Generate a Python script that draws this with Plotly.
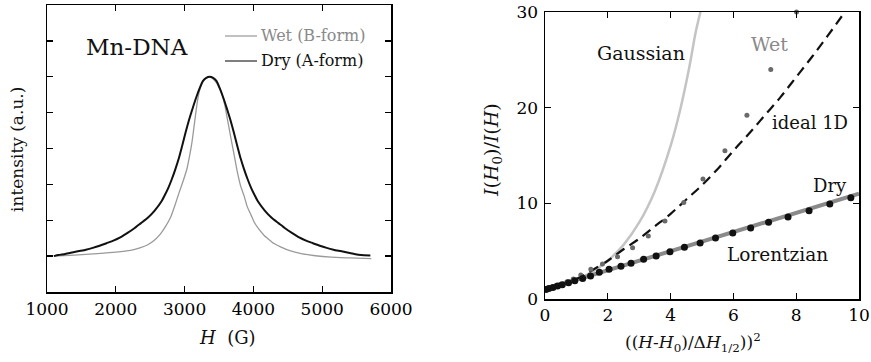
import plotly.graph_objects as go

# ---------------- Left panel data: EPR line shapes ----------------
H_dry = [1100, 1165, 1265, 1365, 1465, 1565, 1665, 1765, 1865, 1965, 2065, 2165, 2265, 2365,
         2465, 2565, 2665, 2715, 2765, 2815, 2865, 2915, 2965, 3015, 3065, 3115, 3165, 3215,
         3265, 3315, 3365, 3415, 3465, 3515, 3565, 3615, 3665, 3715, 3765, 3815, 3865, 3915,
         3965, 4015, 4065, 4165, 4265, 4365, 4465, 4565, 4665, 4765, 4865, 4965, 5065, 5165,
         5265, 5365, 5465, 5565, 5700]
I_dry = [1.0, 1.03, 1.06, 1.1, 1.14, 1.18, 1.23, 1.29, 1.36, 1.43, 1.52, 1.64, 1.77, 1.92,
         2.07, 2.27, 2.53, 2.71, 2.91, 3.15, 3.42, 3.72, 4.08, 4.45, 4.8, 5.11, 5.4, 5.66,
         5.88, 5.97, 6.0, 5.97, 5.88, 5.66, 5.4, 5.11, 4.8, 4.45, 4.08, 3.72, 3.42, 3.15,
         2.91, 2.71, 2.53, 2.27, 2.07, 1.92, 1.77, 1.64, 1.52, 1.43, 1.36, 1.29, 1.23, 1.18,
         1.14, 1.1, 1.06, 1.03, 1.02]
H_wet = [1100, 1400, 1730, 2000, 2215, 2350, 2460, 2560, 2650, 2730, 2800, 2860, 2920, 2980,
         3036, 3075, 3109, 3135, 3160, 3185, 3210, 3250, 3300, 3365, 3420, 3480, 3546, 3585,
         3619, 3655, 3692, 3730, 3765, 3815, 3865, 3910, 3965, 4008, 4080, 4160, 4203, 4300,
         4402, 4530, 4694, 4900, 5131, 5400, 5714]
I_wet = [1.0, 1.03, 1.07, 1.11, 1.16, 1.23, 1.31, 1.44, 1.62, 1.85, 2.1, 2.42, 2.77, 3.1,
         3.45, 3.82, 4.2, 4.58, 4.95, 5.3, 5.56, 5.8, 5.95, 6.0, 5.93, 5.78, 5.5, 5.2,
         4.85, 4.48, 4.1, 3.72, 3.36, 2.95, 2.68, 2.38, 2.15, 1.96, 1.75, 1.57, 1.5, 1.35,
         1.25, 1.15, 1.07, 1.01, 0.97, 0.95, 0.93]
left_xticks = [1000, 2000, 3000, 4000, 5000, 6000]
left_yticks = [1, 2, 3, 4, 5, 6, 7]

# ---------------- Right panel data ----------------
gauss_x = [0, 0.5, 1.0, 1.5, 2.0, 2.5, 3.0, 3.5, 4.0, 4.3, 4.6, 4.8, 4.95]
gauss_y = [1.0, 1.41, 2.0, 2.83, 4.0, 5.66, 8.0, 11.3, 16.0, 19.7, 24.3, 27.9, 30.0]
lor_x = [0, 10]
lor_y = [1.0, 11.0]
ideal_x = [0, 0.5, 1.0, 1.5, 2.0, 2.5, 3.0, 3.5, 4.0, 4.5, 5.0, 5.5, 6.0, 6.5, 7.0, 7.5, 8.0,
           8.5, 9.0, 9.55]
ideal_y = [1.0, 1.5, 2.1, 3.0, 4.0, 5.2, 6.3, 7.6, 8.9, 10.4, 11.9, 13.6, 15.5, 17.3, 19.2,
           21.1, 23.2, 25.3, 27.5, 30.0]
wet_x = [0.05, 0.2, 0.35, 0.5, 0.7, 0.9, 1.14, 1.46, 1.83, 2.31, 2.79, 3.29, 3.82, 4.42,
         5.03, 5.73, 6.43, 7.19, 8.01]
wet_y = [1.05, 1.2, 1.4, 1.55, 1.8, 2.1, 2.5, 3.1, 3.66, 4.42, 5.36, 6.58, 8.15, 10.1,
         12.54, 15.5, 19.2, 24.0, 30.0]
dry_x = [0.03, 0.12, 0.25, 0.4, 0.55, 0.75, 0.95, 1.2, 1.45, 1.73, 2.04, 2.42, 2.74, 3.14,
         3.54, 3.98, 4.44, 4.94, 5.43, 5.98, 6.55, 7.12, 7.74, 8.41, 9.07, 9.74]
dry_y = [1.0, 1.1, 1.2, 1.35, 1.5, 1.7, 1.9, 2.15, 2.4, 2.79, 3.1, 3.42, 3.73, 4.15, 4.49,
         4.94, 5.4, 5.85, 6.37, 6.9, 7.42, 8.01, 8.57, 9.23, 9.93, 10.59]
right_xticks = [0, 2, 4, 6, 8, 10]
right_yticks = [0, 10, 20, 30]

FONT = "DejaVu Serif"
W, Hh = 871, 362

fig = go.Figure()

# Left panel traces
fig.add_trace(go.Scatter(x=H_wet, y=I_wet, mode="lines",
                         line=dict(color="#9a9a9a", width=1.3, shape="spline", smoothing=0.5),
                         xaxis="x", yaxis="y", showlegend=False))
fig.add_trace(go.Scatter(x=H_dry, y=I_dry, mode="lines",
                         line=dict(color="#111111", width=2, shape="spline", smoothing=0.5),
                         xaxis="x", yaxis="y", showlegend=False))

# Right panel traces
fig.add_trace(go.Scatter(x=gauss_x, y=gauss_y, mode="lines",
                         line=dict(color="#c4c4c4", width=2.5, shape="spline"),
                         xaxis="x2", yaxis="y2", showlegend=False))
fig.add_trace(go.Scatter(x=lor_x, y=lor_y, mode="lines", line=dict(color="#8a8a8a", width=4),
                         xaxis="x2", yaxis="y2", showlegend=False))
fig.add_trace(go.Scatter(x=ideal_x, y=ideal_y, mode="lines",
                         line=dict(color="#111111", width=2.2, dash="10px,6px", shape="spline"),
                         xaxis="x2", yaxis="y2", showlegend=False))
fig.add_trace(go.Scatter(x=wet_x, y=wet_y, mode="markers",
                         marker=dict(color="#6a6a6a", size=5, symbol="circle"),
                         xaxis="x2", yaxis="y2", showlegend=False, cliponaxis=False))
fig.add_trace(go.Scatter(x=dry_x, y=dry_y, mode="markers",
                         marker=dict(color="#111111", size=7, symbol="circle"),
                         xaxis="x2", yaxis="y2", showlegend=False))

axis_common = dict(showline=True, linecolor="black", linewidth=1.5, mirror="ticks",
                   ticks="inside", ticklen=6, tickwidth=1.3, tickcolor="black",
                   showgrid=False, zeroline=False, automargin=False,
                   tickfont=dict(family=FONT, size=17, color="#000000"))

fig.update_layout(
    template="none",
    width=W, height=Hh, autosize=False,
    margin=dict(l=0, r=0, t=0, b=0, pad=0, autoexpand=False),
    paper_bgcolor="white", plot_bgcolor="white",
    font=dict(family=FONT, color="#111111"),
    hovermode=False,
    xaxis=dict(domain=[47 / W, 391 / W], range=[1000, 6000], tickvals=left_xticks, anchor="y",
               ticklabelstandoff=1, **axis_common),
    yaxis=dict(domain=[70 / Hh, 357 / Hh], range=[0, 8], tickvals=left_yticks, showticklabels=False,
               anchor="x", **axis_common),
    xaxis2=dict(domain=[545 / W, 859 / W], range=[0, 10], tickvals=right_xticks, anchor="y2",
                ticklabelstandoff=0, **axis_common),
    yaxis2=dict(domain=[63 / Hh, 350 / Hh], range=[0, 30], tickvals=right_yticks, anchor="x2",
                ticklabelstandoff=2, **axis_common),
)

ann = []
def txt(x, y, s, size=16, color="#111111", xref="paper", yref="paper", angle=0, xanchor="center"):
    ann.append(dict(x=x, y=y, xref=xref, yref=yref, text=s, showarrow=False, textangle=angle,
                    xanchor=xanchor, yanchor="middle", borderpad=0,
                    font=dict(family=FONT, size=size, color=color)))

def px(xp, yp):
    return xp / W, 1 - yp / Hh

# Left panel texts
x0, y0 = px(137, 47); txt(x0, y0, "Mn-DNA", size=23)
x0, y0 = px(260, 36); txt(x0, y0, "Wet (B-form)", size=16, color="#8a8a8a", xanchor="left")
x0, y0 = px(260, 61); txt(x0, y0, "Dry (A-form)", size=16, xanchor="left")
x0, y0 = px(227, 337); txt(x0, y0, "<i>H</i>  (G)", size=18)
x0, y0 = px(17, 150); txt(x0, y0, "intensity (a.u.)", size=17, angle=-90)

# Right panel texts
x0, y0 = px(693, 342); txt(x0, y0, "((<i>H</i>-<i>H</i><sub>0</sub>)/Δ<i>H</i><sub>1/2</sub>))<sup>2</sup>", size=17)
x0, y0 = px(493, 150); txt(x0, y0, "<i>I</i>(<i>H</i><sub>0</sub>)/<i>I</i>(<i>H</i>)", size=19, angle=-90)
txt(3.06, 25.7, "Gaussian", size=19, xref="x2", yref="y2")
txt(7.16, 26.7, "Wet", size=19, color="#8a8a8a", xref="x2", yref="y2")
txt(8.43, 18.4, "ideal 1D", size=18, xref="x2", yref="y2")
txt(9.07, 11.9, "Dry", size=18, xref="x2", yref="y2")
txt(7.42, 4.6, "Lorentzian", size=18.5, xref="x2", yref="y2")

fig.update_layout(annotations=ann)

# Legend sample lines (left panel)
fig.add_shape(type="line", xref="paper", yref="paper",
              x0=225 / W, x1=257 / W, y0=1 - 36 / Hh, y1=1 - 36 / Hh,
              line=dict(color="#a0a0a0", width=1.3))
fig.add_shape(type="line", xref="paper", yref="paper",
              x0=225 / W, x1=257 / W, y0=1 - 61 / Hh, y1=1 - 61 / Hh,
              line=dict(color="#555555", width=1.5))

fig.write_html("out.html",
               config={"displayModeBar": False, "staticPlot": True},
               post_script="document.body.style.margin='0';document.body.style.overflow='hidden';")
